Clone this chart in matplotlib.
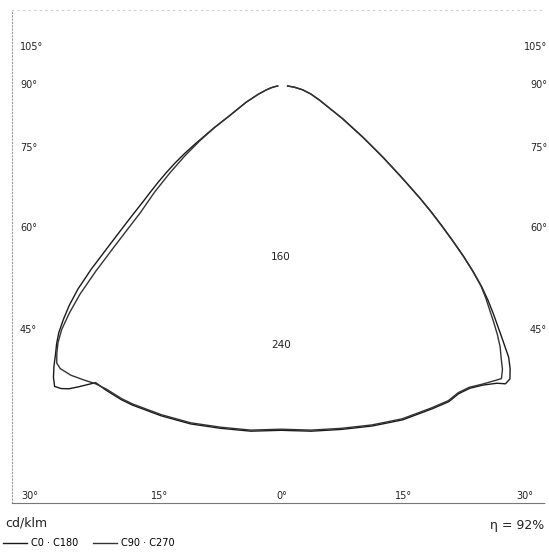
import matplotlib
matplotlib.use("Agg")
import matplotlib.pyplot as plt
import numpy as np

# angulos em graus (0 = para baixo) e intensidades em cd/klm
ang_c0 = [0, 5, 10, 15, 20, 25, 28, 30, 32, 34, 36, 37, 38, 39, 40, 41, 42, 43, 44, 45,
          46, 47, 48, 49, 50, 51, 52, 53, 54, 55, 56, 58, 60, 62, 65, 70, 75, 80, 85, 90]
i_c0 = [313, 315, 317, 320, 323, 324, 325, 323, 324, 328, 334, 339, 338, 331, 322, 308, 295, 283, 271, 258,
        243, 227, 210, 194, 179, 164, 149, 136, 124, 114, 104, 88, 74, 64, 50, 37, 28, 20, 12, 6]

ang_c180 = [0, 5, 10, 15, 20, 25, 27, 30, 32, 34, 35, 36, 37, 38, 39, 40, 41, 42, 43, 44,
            45, 46, 47, 48, 49, 50, 51, 52, 53, 54, 55, 56, 58, 60, 65, 70, 75, 80, 85, 90]
i_c180 = [313, 315, 316, 318, 319, 320, 320, 319, 318, 330, 336, 340, 342, 336, 328, 319, 311, 302, 290, 277,
          261, 240, 216, 196, 179, 164, 152, 141, 130, 119, 107, 94, 72, 54, 35, 22, 14, 9, 5, 3]

ang_c90 = [0, 5, 10, 15, 20, 25, 28, 30, 32, 34, 36, 37, 38, 39, 40, 41, 42, 43, 44, 45,
           46, 47, 48, 49, 50, 51, 52, 53, 54, 55, 56, 58, 60, 62, 65, 70, 75, 80, 85, 90]
i_c90 = [312, 314, 316, 319, 322, 323, 324, 322, 323, 327, 331, 333, 327, 318, 310, 300, 289, 278, 268, 257,
         242, 226, 209, 193, 178, 163, 148, 135, 123, 113, 103, 87, 73, 63, 50, 37, 28, 20, 12, 6]

ang_c270 = [0, 5, 10, 15, 20, 25, 27, 30, 32, 34, 36, 38, 39, 40, 41, 42, 43, 44, 45, 46,
            47, 48, 50, 52, 54, 56, 58, 60, 65, 70, 75, 80, 85, 90]
i_c270 = [312, 314, 315, 317, 318, 319, 319, 318, 319, 322, 325, 326, 324, 317, 309, 298, 282, 263, 238, 212,
          190, 172, 150, 128, 108, 89, 71, 54, 35, 22, 14, 9, 5, 3]

lados = ["105°", "90°", "75°", "60°", "45°"]
base = ["30°", "15°", "0°", "15°", "30°"]
circulos = [160, 240]


def curva(ang_dir, i_dir, ang_esq, i_esq):
    # junta os dois meios planos: direita (x>0) e esquerda (x<0)
    a1 = np.radians(ang_esq[::-1])
    r1 = np.array(i_esq[::-1], dtype=float)
    a2 = np.radians(ang_dir)
    r2 = np.array(i_dir, dtype=float)
    x = np.concatenate([-r1 * np.sin(a1), r2 * np.sin(a2)])
    y = np.concatenate([-r1 * np.cos(a1), -r2 * np.cos(a2)])
    return x, y


fig = plt.figure(figsize=(5.49, 5.55), dpi=100)
W, H = 549, 555
ax = fig.add_axes([12 / W, 52 / H, 533 / W, 493 / H])
esc = 1.1
ax.set_xlim((12 - 281) / esc, (545 - 281) / esc)
ax.set_ylim(-(503 - 86) / esc, (86 - 10) / esc)
ax.set_xticks([])
ax.set_yticks([])

x, y = curva(ang_c0, i_c0, ang_c180, i_c180)
l1, = ax.plot(x, y, color="#1a1a1a", lw=1.0, label="C0 · C180")
x, y = curva(ang_c90, i_c90, ang_c270, i_c270)
l2, = ax.plot(x, y, color="#333333", lw=1.0, label="C90 · C270")

for v in circulos:
    ax.text(0, -v, str(v), ha="center", va="bottom", fontsize=7.5, color="#222")

ax.spines["right"].set_visible(False)
ax.spines["left"].set_linestyle((0, (1, 2)))
ax.spines["left"].set_color("#999")
ax.spines["top"].set_linestyle((0, (1, 4)))
ax.spines["top"].set_color("#ccc")
ax.spines["bottom"].set_linestyle((0, (4, 1)))
ax.spines["bottom"].set_color("#777")
ax.spines["bottom"].set_linewidth(0.8)

# rotulos dos angulos
lado_y = [47, 85, 148, 228, 330]
for t, py in zip(lados, lado_y):
    fig.text(20 / W, 1 - py / H, t, ha="left", va="center", fontsize=7, color="#222")
    fig.text(547 / W, 1 - py / H, t, ha="right", va="center", fontsize=7, color="#222")
base_x = [30, 160, 282, 404, 525]
for t, px in zip(base, base_x):
    fig.text(px / W, 1 - 496 / H, t, ha="center", va="center", fontsize=7, color="#222")

fig.text(5 / W, 1 - 523 / H, "cd/klm", ha="left", va="center", fontsize=9, color="#222")
fig.text(544 / W, 1 - 525 / H, "η = 92%", ha="right", va="center", fontsize=9, color="#222")
fig.legend(handles=[l1, l2], loc="lower left", bbox_to_anchor=(-0.01, -0.004), ncol=2,
           frameon=False, fontsize=7, handlelength=2.4, handletextpad=0.5, columnspacing=1.5)

fig.savefig("out.png", dpi=100)
